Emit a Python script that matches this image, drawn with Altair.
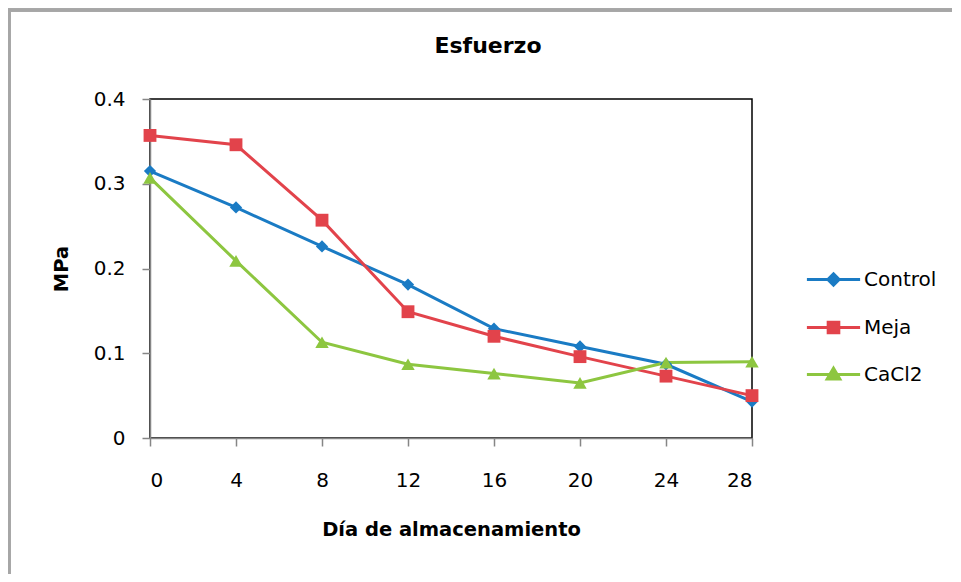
import altair as alt
import pandas as pd

dias = [0, 4, 8, 12, 16, 20, 24, 28]
control = [0.315, 0.272, 0.226, 0.181, 0.129, 0.108, 0.087, 0.043]
meja = [0.357, 0.346, 0.257, 0.149, 0.120, 0.096, 0.073, 0.050]
cacl2 = [0.307, 0.209, 0.113, 0.087, 0.076, 0.065, 0.089, 0.090]
series = ["Control", "Meja", "CaCl2"]
colors = ["#1A7BC4", "#E2434B", "#8DC640"]
shapes = ["diamond", "square", "triangle-up"]
legend_shapes = [
    "M-1.9,0L1.9,0M0,-0.4L0.4,0L0,0.4L-0.4,0Z",
    "M-1.9,0L1.9,0M-0.38,-0.38L0.38,-0.38L0.38,0.38L-0.38,0.38Z",
    "M-1.9,0L1.9,0M0,-0.45L0.45,0.32L-0.45,0.32Z",
]

rows = []
for name, vals in zip(series, [control, meja, cacl2]):
    for d, v in zip(dias, vals):
        rows.append({"Día": d, "MPa": v, "Serie": name})
df = pd.DataFrame(rows)

FONT = "DejaVu Sans"

x = alt.X("Día:Q", title="Día de almacenamiento",
          scale=alt.Scale(domain=[0, 28], nice=False, zero=False),
          axis=alt.Axis(values=dias, grid=False, tickSize=8, labelPadding=24,
                        titlePadding=30))
y = alt.Y("MPa:Q", title="MPa",
          scale=alt.Scale(domain=[0, 0.4], nice=False),
          axis=alt.Axis(values=[0, 0.1, 0.2, 0.3, 0.4], format=".1~f", grid=False,
                        tickSize=8, labelPadding=17, titlePadding=22))

def cscale():
    return alt.Scale(domain=series, range=colors)

lines = alt.Chart(df).mark_line(strokeWidth=3).encode(
    x=x, y=y, color=alt.Color("Serie:N", sort=series, scale=cscale(), legend=None))
points = alt.Chart(df).mark_point(filled=True, opacity=1).encode(
    x=x, y=y,
    color=alt.Color("Serie:N", sort=series, scale=cscale(), legend=None),
    shape=alt.Shape("Serie:N", sort=series, scale=alt.Scale(domain=series, range=shapes), legend=None),
    size=alt.Size("Serie:N", sort=series, scale=alt.Scale(domain=series, range=[150, 180, 170]), legend=None),
)

leg = alt.Legend(title=None, orient="none", legendX=668, legendY=165,
                 symbolSize=784, symbolStrokeWidth=3, symbolOpacity=1, rowPadding=20,
                 labelOffset=15, padding=0)
legend_layer = alt.Chart(df).transform_filter("false").mark_point(
    filled=True, opacity=1, size=784, strokeWidth=3).encode(
    x=x, y=y,
    fill=alt.Fill("Serie:N", sort=series, scale=cscale(), legend=leg),
    stroke=alt.Stroke("Serie:N", sort=series, scale=cscale(), legend=leg),
    shape=alt.Shape("Serie:N", sort=series, scale=alt.Scale(domain=series, range=legend_shapes), legend=leg),
)

# outer chart frame (top and left edges, as in the reference)
frame_top = alt.Chart(df).mark_rule(color="#A6A6A6", strokeWidth=2.5).encode(
    x=alt.value(-142), x2=alt.value(820), y=alt.value(-89))
frame_left = alt.Chart(df).mark_rule(color="#A6A6A6", strokeWidth=2.5).encode(
    x=alt.value(-141), y=alt.value(-90), y2=alt.value(485))

chart = alt.layer(frame_top, frame_left, lines, points, legend_layer).resolve_scale(
    shape="independent", fill="independent", stroke="independent"
).properties(
    width=602, height=339,
    autosize=alt.AutoSizeParams(type="none"),
    padding={"left": 142, "top": 91, "right": 200, "bottom": 136},
    title=alt.Title("Esfuerzo", fontSize=22, fontWeight="bold", font=FONT,
                    offset=0, dy=50, dx=37, color="black", frame="group"),
).configure_view(stroke="black", strokeWidth=1.5).configure_axis(
    labelFont=FONT, labelFontSize=20, labelColor="black",
    titleFont=FONT, titleFontSize=19.5, titleFontWeight="bold", titleColor="black",
    domainColor="#868686", tickColor="#868686", domainWidth=1.5, tickWidth=1.5,
).configure_legend(labelFont=FONT, labelFontSize=20, labelColor="black")

chart.save("out.html", embed_options={"renderer": "svg", "actions": False})
